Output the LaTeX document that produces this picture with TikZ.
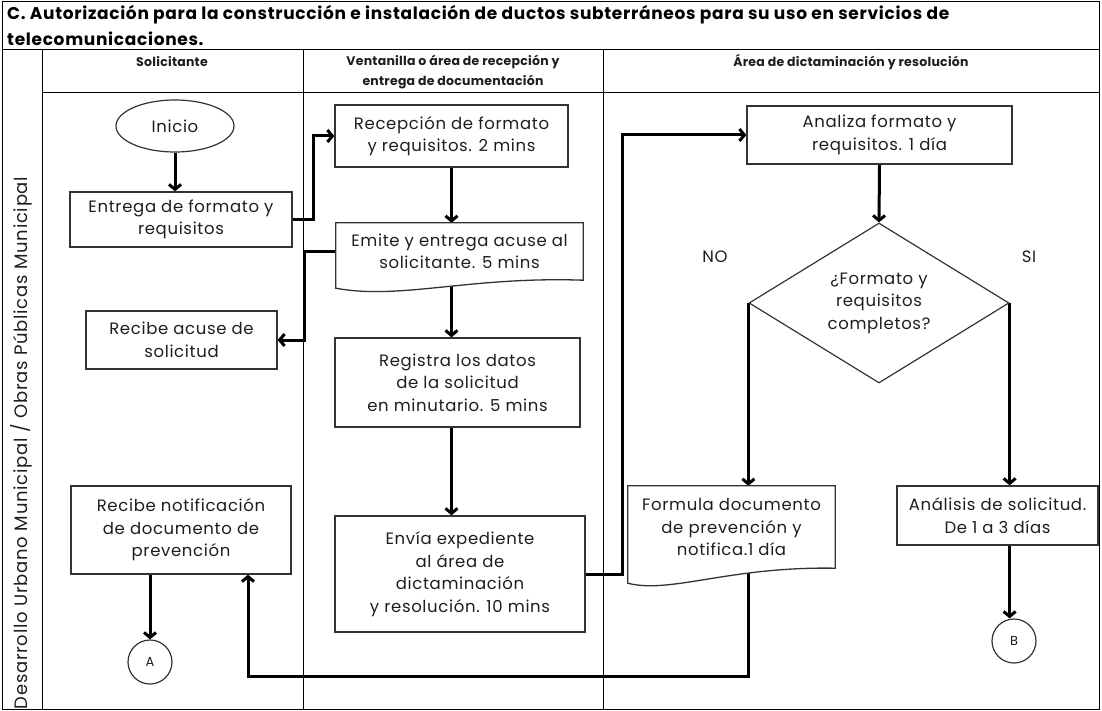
\documentclass[tikz,border=0pt]{standalone}
\usepackage{fontspec}
\setmainfont{Poppins}
\newfontfamily\bodyfam[LetterSpace=4]{Poppins}
\newfontfamily\titlefam[LetterSpace=4]{Poppins}
\newfontfamily\hdrfam[LetterSpace=2]{Poppins}
\usetikzlibrary{shapes.geometric,arrows.meta,calc}
\pgfdeclarelayer{bg}
\pgfsetlayers{bg,main}
\definecolor{ink}{HTML}{1E1E1E}
\newcommand\mybody{\bodyfam\fontsize{16.5}{22.5}\selectfont}
\begin{document}
\begin{tikzpicture}[x=1pt,y=-1pt,
  grid/.style={draw=black,line width=1pt},
  box/.style={draw=black!80,line width=1.3pt,fill=white,align=center,inner sep=0pt,text=ink,font=\mybody},
  doctext/.style={align=center,inner sep=0pt,text=ink,font=\mybody},
  docline/.style={draw=black!80,line width=1.3pt,fill=white},
  circ/.style={draw=black!80,circle,line width=1.2pt,minimum size=44pt,inner sep=0pt,fill=white,text=ink,font=\bodyfam\fontsize{13}{15}\selectfont},
  conn/.style={line width=3pt,-{Straight Barb[length=5pt,width=12pt]}},
  hdr/.style={font=\hdrfam\fontsize{12.5}{20}\selectfont\bfseries,text=ink,align=center,inner sep=0pt},
  lbl/.style={font=\bodyfam\fontsize{16.5}{18}\selectfont,text=ink,inner sep=0pt}
]
\useasboundingbox (0,0) rectangle (1102,711);
% title
\node[anchor=base west,inner sep=0pt,font=\titlefam\fontsize{17}{18}\selectfont\bfseries,text=black] (t1) at (7,20) {C. Autorización para la construcción e instalación de ductos subterráneos para su uso en servicios de};
\node[anchor=base west,inner sep=0pt,font=\titlefam\fontsize{17}{18}\selectfont\bfseries,text=black] (t2) at (7,46) {telecomunicaciones.};
% headers
\node[hdr] (h1) at (172,62) {Solicitante};
\node[hdr] (h2) at (453,72) {Ventanilla o área de recepción y\\entrega de documentación};
\node[hdr] (h3) at (851,62) {Área de dictaminación y resolución};
% lane label
\node[rotate=90,inner sep=0pt,font=\bodyfam\fontsize{18}{20}\selectfont,text=ink] (lane) at (21,443) {Desarrollo Urbano Municipal / Obras Públicas Municipal};
% Solicitante column
\node[draw=black!80,ellipse,line width=1.2pt,minimum width=118pt,minimum height=52pt,inner sep=0pt,fill=white,font=\mybody,text=ink] (ini) at (175,126) {Inicio};
\node[box,minimum width=222pt,minimum height=55pt] (ent) at (181,219.5) {Entrega de formato y\\requisitos};
\node[box,minimum width=191pt,minimum height=58pt] (acu) at (181.5,340) {Recibe acuse de\\solicitud};
\node[box,minimum width=220pt,minimum height=88pt] (recnot) at (181,530) {Recibe notificación\\de documento de\\prevención};
\node[circ] (A) at (150,662) {A};
% Ventanilla column
\node[box,minimum width=233pt,minimum height=62pt] (rec) at (451.5,136) {Recepción de formato\\y requisitos. 2 mins};
\node[doctext,minimum width=247pt,minimum height=57pt] (emi) at (459.5,251.5) {Emite y entrega acuse al\\solicitante. 5 mins};
\node[box,minimum width=245pt,minimum height=89pt] (reg) at (457.5,382.5) {Registra los datos\\de la solicitud\\en minutario. 5 mins};
\node[box,minimum width=250pt,minimum height=116pt] (env) at (460,574) {Envía expediente\\al área de\\dictaminación\\y resolución. 10 mins};
% Dictaminación column
\node[box,minimum width=265pt,minimum height=58pt] (ana) at (879.5,135) {Analiza formato y\\requisitos. 1 día};
\node[diamond,draw=black!80,line width=1.2pt,fill=white,aspect=1.625,minimum width=260pt,minimum height=160pt,inner sep=0pt,align=center,text=ink,font=\mybody] (dia) at (879,303) {¿Formato y\\requisitos\\completos?};
\node[lbl] (no) at (715,257) {NO};
\node[lbl] (si) at (1029,257) {SI};
\node[doctext,minimum width=207pt,minimum height=82pt] (form) at (731.5,527) {Formula documento\\de prevención y\\notifica.1 día};
\node[box,minimum width=201pt,minimum height=59pt] (anl) at (997.5,515.5) {Análisis de solicitud.\\De 1 a 3 días};
\node[circ] (B) at (1014,641) {B};
\coordinate (retx) at (248,676);
\begin{pgfonlayer}{bg}
  % grid
  \draw[grid] (2,2) rectangle (1099,709);
  \draw[grid] (2,50) -- (1099,50);
  \draw[grid] (42,93) -- (1099,93);
  \draw[grid] (42,50) -- (42,709);
  \draw[grid] (303,50) -- (303,709);
  \draw[grid] (603,50) -- (603,709);
  % connectors
  \draw[conn] (ini.south) -- (ini.south |- ent.north);
  \draw[conn] (ent.east) -- ++(21,0) |- (rec.west);
  \draw[conn] (rec.south) -- (rec.south |- emi.north);
  \draw[conn] (emi.west) -- ++(-31,0) |- (acu.east);
  \draw[conn] (rec.south |- emi.south) -- (rec.south |- reg.north);
  \draw[conn] (rec.south |- reg.south) -- (rec.south |- env.north);
  \draw[conn] (env.east) -- ++(37,0) |- (ana.west);
  \draw[conn] (ana.south) -- (dia.north);
  \draw[conn] (dia.west) -- (dia.west |- form.north);
  \draw[conn] (dia.east) -- (dia.east |- anl.north);
  \draw[conn] (dia.west |- form.south) -- (dia.west |- retx) -- (retx) -- (retx |- recnot.south);
  \draw[conn] (A.north |- recnot.south) -- (A.north);
  \draw[conn] (dia.east |- anl.south) -- (dia.east |- B.north);
  % document shapes
  \draw[docline] (emi.south east) -- (emi.north east) -- (emi.north west) -- ($(emi.south west)+(0,8)$)
    .. controls ($(emi.south west)+(64,20)$) and ($(emi.south west)+(134,-4)$) .. (emi.south east) -- cycle;
  \draw[docline] (form.south east) -- (form.north east) -- (form.north west) -- ($(form.south west)+(0,15)$)
    .. controls ($(form.south west)+(42,26)$) and ($(form.south west)+(102,-2)$) .. (form.south east) -- cycle;
\end{pgfonlayer}
\end{tikzpicture}
\end{document}
